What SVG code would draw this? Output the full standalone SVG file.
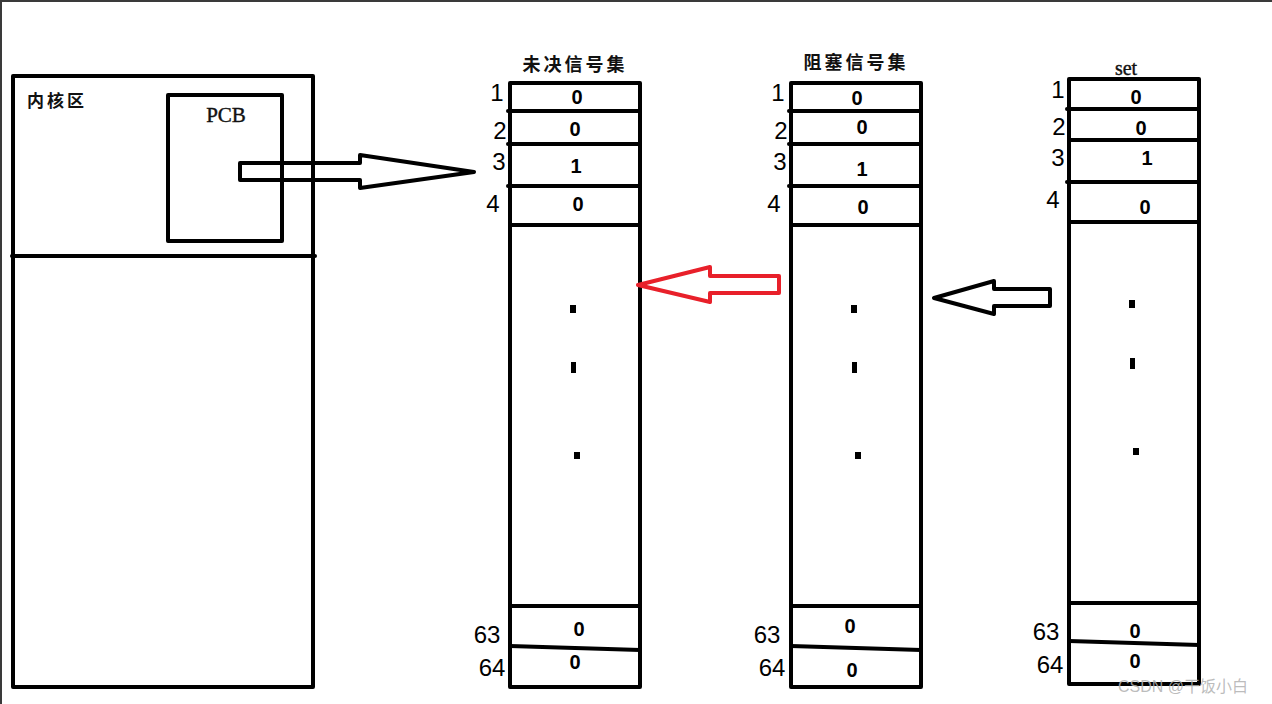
<svg xmlns="http://www.w3.org/2000/svg" width="1272" height="704" viewBox="0 0 1272 704">
<style>
.box{fill:none;stroke:#000;stroke-width:4;stroke-linejoin:round}
.ln{stroke:#000;stroke-width:4;stroke-linecap:round}
.cn{font-family:"Noto Sans CJK SC","Noto Sans CJK JP",sans-serif;font-weight:bold;fill:#111}
.hw{font-family:"Liberation Sans","DejaVu Sans",sans-serif;fill:#000;text-anchor:middle}
.lab{font-size:24px}
.val{font-size:20px;font-weight:bold}
.ser{font-family:"Liberation Serif","DejaVu Serif",serif;fill:#111;text-anchor:middle}
.dot{fill:#000}
.arr{fill:none;stroke-width:4;stroke-linejoin:round}
</style>
<rect x="0" y="0" width="1272" height="704" fill="#fff"/>
<rect x="0" y="0" width="1272" height="2" fill="#3a3a3a"/>
<rect x="0" y="0" width="2" height="704" fill="#3a3a3a"/>

<g id="kernel">
<rect class="box" x="13" y="76" width="300" height="611"/>
<line class="ln" x1="12" y1="256" x2="315" y2="256"/>
<text class="cn" x="27" y="107" font-size="17" letter-spacing="3">内核区</text>
</g>

<g id="pcb">
<rect class="box" x="168" y="95" width="114" height="146"/>
<text class="ser" x="226" y="122" font-size="21" stroke="#111" stroke-width="0.4">PCB</text>
</g>

<g id="pending">
<text class="cn" x="575" y="71" font-size="18" text-anchor="middle" letter-spacing="3">未决信号集</text>
<rect class="box" x="510" y="83" width="130" height="604"/>
<line class="ln" x1="508" y1="111" x2="640" y2="111"/>
<line class="ln" x1="508" y1="144" x2="640" y2="144"/>
<line class="ln" x1="508" y1="186" x2="640" y2="186"/>
<line class="ln" x1="510" y1="225" x2="640" y2="225"/>
<line class="ln" x1="510" y1="606" x2="640" y2="606"/>
<line class="ln" x1="510" y1="646" x2="640" y2="650"/>
<text class="hw lab" x="497" y="101">1</text>
<text class="hw lab" x="500" y="139">2</text>
<text class="hw lab" x="499" y="170">3</text>
<text class="hw lab" x="493" y="212">4</text>
<text class="hw lab" x="487" y="643">63</text>
<text class="hw lab" x="492" y="676">64</text>
<text class="hw val" x="577" y="104">0</text>
<text class="hw val" x="575" y="136">0</text>
<text class="hw val" x="576" y="173">1</text>
<text class="hw val" x="578" y="211">0</text>
<text class="hw val" x="579" y="636">0</text>
<text class="hw val" x="575" y="669">0</text>
<rect class="dot" x="570" y="305" width="6" height="8"/>
<rect class="dot" x="571" y="362" width="5" height="11"/>
<rect class="dot" x="574" y="452" width="6" height="7"/>
</g>

<g id="blocked">
<text class="cn" x="856" y="69" font-size="18" text-anchor="middle" letter-spacing="3">阻塞信号集</text>
<rect class="box" x="791" y="83" width="130" height="604"/>
<line class="ln" x1="789" y1="111" x2="921" y2="111"/>
<line class="ln" x1="789" y1="144" x2="921" y2="144"/>
<line class="ln" x1="789" y1="186" x2="921" y2="186"/>
<line class="ln" x1="791" y1="225" x2="921" y2="225"/>
<line class="ln" x1="791" y1="606" x2="921" y2="606"/>
<line class="ln" x1="791" y1="646" x2="921" y2="650"/>
<text class="hw lab" x="778" y="101">1</text>
<text class="hw lab" x="781" y="139">2</text>
<text class="hw lab" x="780" y="170">3</text>
<text class="hw lab" x="774" y="212">4</text>
<text class="hw lab" x="767" y="643">63</text>
<text class="hw lab" x="772" y="676">64</text>
<text class="hw val" x="857" y="105">0</text>
<text class="hw val" x="862" y="134">0</text>
<text class="hw val" x="862" y="176">1</text>
<text class="hw val" x="863" y="214">0</text>
<text class="hw val" x="850" y="633">0</text>
<text class="hw val" x="852" y="677">0</text>
<rect class="dot" x="851" y="305" width="6" height="8"/>
<rect class="dot" x="852" y="362" width="5" height="11"/>
<rect class="dot" x="855" y="452" width="6" height="7"/>
</g>

<g id="set">
<text class="ser" x="1126" y="75" font-size="20" stroke="#111" stroke-width="0.4">set</text>
<rect class="box" x="1069" y="79" width="130" height="605"/>
<line class="ln" x1="1067" y1="109" x2="1199" y2="109"/>
<line class="ln" x1="1069" y1="140" x2="1199" y2="140"/>
<line class="ln" x1="1067" y1="182" x2="1199" y2="182"/>
<line class="ln" x1="1069" y1="222" x2="1199" y2="222"/>
<line class="ln" x1="1069" y1="603" x2="1199" y2="603"/>
<line class="ln" x1="1069" y1="641" x2="1199" y2="645"/>
<text class="hw lab" x="1058" y="98">1</text>
<text class="hw lab" x="1059" y="135">2</text>
<text class="hw lab" x="1058" y="166">3</text>
<text class="hw lab" x="1053" y="208">4</text>
<text class="hw lab" x="1046" y="640">63</text>
<text class="hw lab" x="1050" y="673">64</text>
<text class="hw val" x="1136" y="104">0</text>
<text class="hw val" x="1141" y="135">0</text>
<text class="hw val" x="1147" y="165">1</text>
<text class="hw val" x="1145" y="214">0</text>
<text class="hw val" x="1135" y="638">0</text>
<text class="hw val" x="1135" y="668">0</text>
<rect class="dot" x="1129" y="300" width="6" height="8"/>
<rect class="dot" x="1130" y="358" width="5" height="11"/>
<rect class="dot" x="1133" y="448" width="6" height="7"/>
</g>

<g id="connectors">
<path class="arr" stroke="#000" d="M240,163 L360,163 L360,155 L474,172 L360,188 L360,180 L240,180 Z"/>
<path class="arr" stroke="#e8202a" d="M779,276 L710,276 L710,267 L638,285 L710,302 L710,293 L779,293 Z"/>
<path class="arr" stroke="#000" d="M1050,289 L994,289 L994,281 L934,298 L994,314 L994,306 L1050,306 Z"/>
</g>

<text x="1183" y="692" font-family="Liberation Sans,Noto Sans CJK SC,sans-serif" font-size="16" fill="#b0b0b0" fill-opacity="0.85" text-anchor="middle">CSDN @干饭小白</text>
</svg>
